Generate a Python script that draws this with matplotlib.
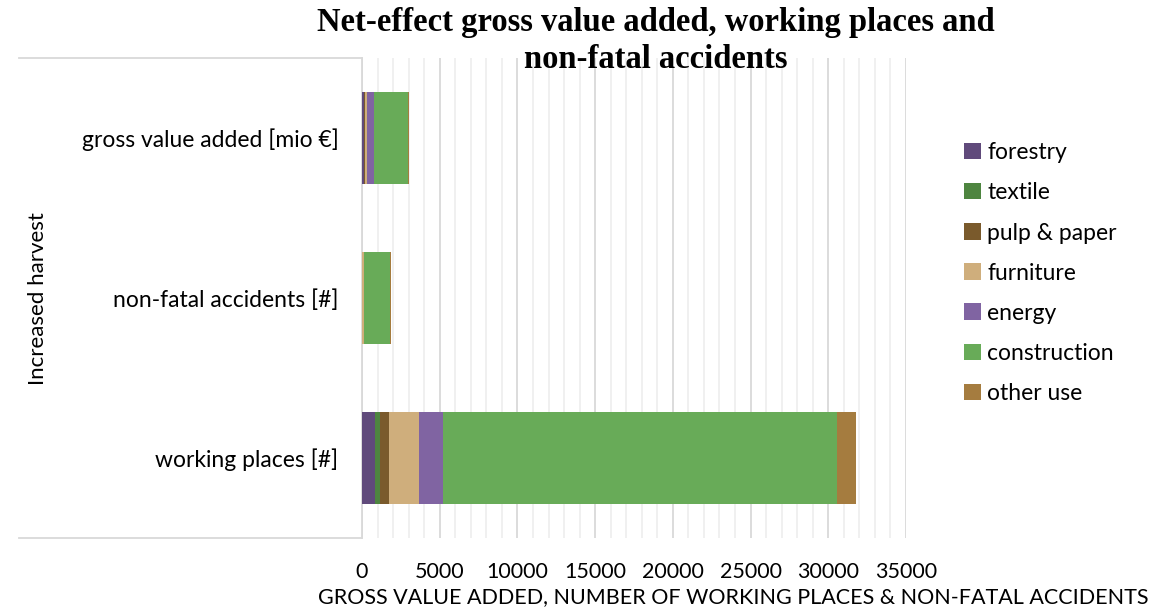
import matplotlib
matplotlib.use("Agg")
import matplotlib.pyplot as plt
from matplotlib.lines import Line2D
from matplotlib.ticker import MultipleLocator
import numpy as np

# categories, top to bottom
categories = ["gross value added [mio €]", "non-fatal accidents [#]", "working places [#]"]
group_label = "Increased harvest"

sectors = ["forestry", "textile", "pulp & paper", "furniture", "energy", "construction", "other use"]
colors = ["#604A7B", "#4E8540", "#7A5A2C", "#CFAE7C", "#8064A2", "#68AB58", "#A57C3F"]

# net effect per sector, one value per category
forestry = [120, 20, 850]
textile = [20, 0, 340]
pulp_paper = [60, 0, 540]
furniture = [130, 110, 1930]
energy = [450, 0, 1560]
construction = [2200, 1700, 25330]
other_use = [60, 20, 1220]

series = [forestry, textile, pulp_paper, furniture, energy, construction, other_use]

plt.rcParams["font.family"] = ["Lato", "DejaVu Sans"]

fig = plt.figure(figsize=(11.62, 6.07), dpi=100)
W, H = 1162, 607
ax = fig.add_axes([362 / W, 1 - 538 / H, 544 / W, 480 / H])

ypos = np.arange(len(categories))
left = np.zeros(len(categories))
for name, vals, c in zip(sectors, series, colors):
    vals = np.array(vals, dtype=float)
    ax.barh(ypos, vals, left=left, height=0.57, color=c, label=name, zorder=3)
    left += vals

ax.set_ylim(2.5, -0.5)
ax.set_xlim(0, 35000)
ax.xaxis.set_major_locator(MultipleLocator(5000))
ax.xaxis.set_minor_locator(MultipleLocator(1000))
ax.grid(axis="x", which="major", color="#D9D9D9", linewidth=1.3, zorder=0)
ax.grid(axis="x", which="minor", color="#EFEFEF", linewidth=1.3, zorder=0)
ax.set_axisbelow(True)

for s in ["top", "right", "bottom"]:
    ax.spines[s].set_visible(False)
ax.spines["left"].set_color("#D9D9D9")
ax.spines["left"].set_linewidth(1.3)

ax.set_yticks(ypos)
ax.set_yticklabels(categories, fontsize=16.5)
ax.tick_params(axis="y", length=0, pad=17)
ax.tick_params(axis="x", which="both", length=0, labelsize=15.5, pad=17)

ax.set_xlabel("GROSS VALUE ADDED, NUMBER OF WORKING PLACES & NON-FATAL ACCIDENTS", fontsize=15.5)
ax.xaxis.label.set_verticalalignment("center")
ax.xaxis.set_label_coords((733 - 362) / 544, -(597 - 538) / 480)

# frame around the category labels
for yy in (58, 538):
    fig.add_artist(Line2D([19 / W, 362 / W], [1 - yy / H, 1 - yy / H],
                          color="#D9D9D9", linewidth=1.3))

fig.text(38 / W, 1 - 299 / H, group_label, rotation=90, ha="center", va="center", fontsize=16)

fig.text(656 / W, 1 - 22 / H, "Net-effect gross value added, working places and",
         ha="center", va="center", fontsize=23.5, fontweight="bold",
         family=["Liberation Serif", "DejaVu Serif"])
fig.text(656 / W, 1 - 59 / H, "non-fatal accidents",
         ha="center", va="center", fontsize=23.5, fontweight="bold",
         family=["Liberation Serif", "DejaVu Serif"])

leg = ax.legend(loc="upper left", bbox_to_anchor=(953 / W, 1 - 131 / H),
                bbox_transform=fig.transFigure, frameon=False, fontsize=16.5,
                handlelength=0.7, handleheight=0.7, labelspacing=0.83,
                handletextpad=0.3, borderpad=0)

fig.savefig("out.png", dpi=100)
